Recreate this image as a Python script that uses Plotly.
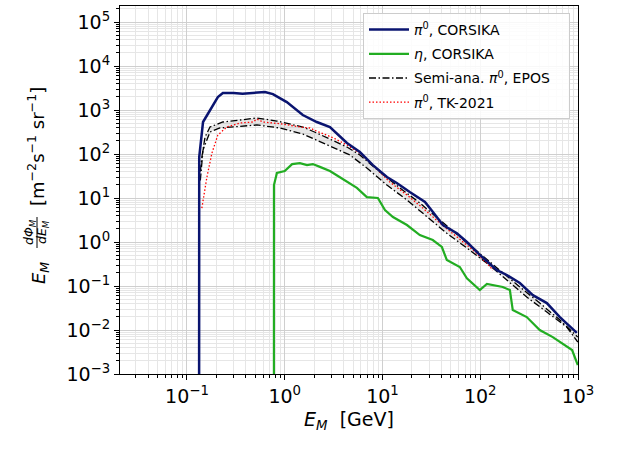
import plotly.graph_objects as go

# ---------------- data ----------------
pi0_E = [0.1330, 0.1335, 0.146, 0.172, 0.207, 0.233, 0.30, 0.37, 0.44, 0.628, 0.757,
         1.05, 1.53, 2.13, 2.9, 4.33, 5.87, 7.98, 11.1, 14.0, 19.0, 27.2, 32.8, 41.5,
         57.7, 73, 99, 148, 187, 254, 345, 480, 652, 973]
pi0_flux = [1e-5, 85, 534, 1000, 1970, 2430, 2450, 2350, 2430, 2570, 2300,
            1510, 770, 534, 409, 178, 111, 56, 30, 22, 13.7, 8.1, 4.8, 2.43,
            1.58, 1.0, 0.51, 0.23, 0.178, 0.117, 0.062, 0.041, 0.0197, 0.0086]

eta_E = [0.775, 0.776, 0.832, 0.893, 1.0, 1.19, 1.43, 1.69, 1.94, 2.29, 2.90, 3.50,
         4.33, 5.47, 6.92, 8.97, 10.6, 12.8, 17.8, 24.1, 32.7, 40.5, 45.5, 61.8, 73,
         99, 117, 170, 201, 215, 299, 406, 552, 767, 870, 995]
eta_flux = [1e-5, 19.7, 37, 39, 41, 59, 62, 56, 59, 51, 41, 31.6,
            23, 17, 10.5, 10, 5.3, 3.7, 2.43, 1.44, 1.11, 0.77, 0.39, 0.27, 0.15,
            0.081, 0.111, 0.095, 0.081, 0.0285, 0.0197, 0.010, 0.0069, 0.0041, 0.0035, 0.0016]

semi_hi_E = [0.137, 0.142, 0.153, 0.172, 0.233, 0.52, 0.832, 1.53, 2.13, 3.11, 4.33,
             5.87, 9.4, 15.1, 24.1, 38.6, 61.8, 99, 158, 254, 406, 652, 995]
semi_hi = [40, 85, 243, 411, 534, 658, 562, 411, 300, 200, 144,
           95, 39, 16.9, 7.7, 3.16, 1.30, 0.56, 0.23, 0.095, 0.041, 0.0169, 0.0069]

semi_lo_E = [0.137, 0.146, 0.172, 0.217, 0.52, 0.893, 1.53, 2.13, 3.11, 4.64, 6.92,
             11.1, 17.8, 28.5, 45.5, 73, 117, 187, 299, 480, 767, 995]
semi_lo = [25, 124, 316, 390, 457, 390, 285, 208, 144, 95, 48,
           19.7, 9.0, 3.7, 1.58, 0.73, 0.33, 0.137, 0.056, 0.0256, 0.0117, 0.0053]

tk_E = [0.142, 0.16, 0.180, 0.207, 0.256, 0.348, 0.473, 0.52, 0.598, 0.96, 1.43, 1.81,
        2.13, 3.11, 4.33, 5.87, 7.98, 11.9, 17.8, 25.9, 38.6, 57.7, 84, 117, 135]
tk_flux = [5.9, 30, 105, 270, 411, 507, 534, 624, 534, 480, 411, 390,
           330, 235, 160, 105, 56, 23, 11.7, 5.9, 2.7, 1.30, 0.66, 0.33, 0.23]

x_tickvals = [0.1, 1, 10, 100, 1000]
x_ticktext = ["10<sup>−1</sup>", "10<sup>0</sup>", "10<sup>1</sup>", "10<sup>2</sup>", "10<sup>3</sup>"]
y_tickvals = [1e-3, 1e-2, 1e-1, 1, 10, 100, 1e3, 1e4, 1e5]
y_ticktext = ["10<sup>−3</sup>", "10<sup>−2</sup>", "10<sup>−1</sup>", "10<sup>0</sup>",
              "10<sup>1</sup>", "10<sup>2</sup>", "10<sup>3</sup>", "10<sup>4</sup>", "10<sup>5</sup>"]

FONT = "DejaVu Sans"
NAVY = "#0a1470"
GREEN = "#22ad22"

fig = go.Figure()

# shaded band between the semi-analytical bounds
fig.add_trace(go.Scatter(
    x=semi_hi_E + semi_lo_E[::-1], y=semi_hi + semi_lo[::-1],
    fill="toself", fillcolor="rgba(150,150,150,0.22)", line=dict(width=0),
    mode="lines", showlegend=False, hoverinfo="skip"))

dd = "7px,2.5px,1.5px,2.5px"
fig.add_trace(go.Scatter(x=semi_hi_E, y=semi_hi, mode="lines",
                         line=dict(color="black", width=1.3, dash=dd),
                         name="Semi-ana. <i>π</i><sup>0</sup>, EPOS&nbsp;&nbsp;&nbsp;",
                         legendrank=3, legendgroup="c"))
fig.add_trace(go.Scatter(x=semi_lo_E, y=semi_lo, mode="lines",
                         line=dict(color="black", width=1.3, dash=dd),
                         showlegend=False, legendgroup="c"))
fig.add_trace(go.Scatter(x=tk_E, y=tk_flux, mode="lines",
                         line=dict(color="red", width=1.3, dash="1.5px,2px"),
                         name="<i>π</i><sup>0</sup>, TK-2021", legendrank=4,
                         legendgroup="d"))
fig.add_trace(go.Scatter(x=eta_E, y=eta_flux, mode="lines",
                         line=dict(color=GREEN, width=2.2),
                         name="<i>η</i>, CORSIKA", legendrank=2, legendgroup="b"))
fig.add_trace(go.Scatter(x=pi0_E, y=pi0_flux, mode="lines",
                         line=dict(color=NAVY, width=2.5),
                         name="<i>π</i><sup>0</sup>, CORSIKA", legendrank=1,
                         legendgroup="a"))

axis_common = dict(
    type="log", showline=True, linecolor="black", linewidth=1, mirror=True,
    ticks="outside", ticklen=5, tickcolor="black", tickwidth=1,
    showgrid=True, gridcolor="#cfcfcf", gridwidth=1, zeroline=False,
    tickfont=dict(family=FONT, size=19, color="black"),
    minor=dict(dtick="D1", ticks="outside", ticklen=3, tickcolor="black",
               showgrid=True, gridcolor="#e6e6e6", gridwidth=1),
)

fig.update_xaxes(**axis_common, range=[-1.685, 3.0], tickmode="array",
                 tickvals=x_tickvals, ticktext=x_ticktext,
                 title=dict(text="<i>E<sub>M</sub></i>  [GeV]",
                            font=dict(family=FONT, size=19, color="black"), standoff=6))
fig.update_yaxes(**axis_common, range=[-3, 5.364], tickmode="array",
                 tickvals=y_tickvals, ticktext=y_ticktext)

# y-axis label built from pieces (E_M dPhi/dE [units])
L, R, T, B = 120, 578, 6, 374
def px(xp):
    return (xp - L) / (R - L)
def py(yp):
    return 1 - (yp - T) / (B - T)

ann = dict(xref="paper", yref="paper", showarrow=False, textangle=-90,
           xanchor="center", yanchor="middle",
           font=dict(family=FONT, size=18, color="black"))
fig.add_annotation(**ann, x=px(36), y=py(147),
                   text="[m<sup>−2</sup>s<sup>−1</sup> sr<sup>−1</sup>]")
fig.add_annotation(**ann, x=px(40), y=py(273), text="<i>E<sub>M</sub></i>")
ann_small = dict(ann)
ann_small["font"] = dict(family=FONT, size=12.5, color="black")
fig.add_annotation(**ann_small, x=px(30), y=py(232), text="<i>d</i><i>Φ<sub>M</sub></i>")
fig.add_annotation(**ann_small, x=px(43), y=py(232), text="<i>dE<sub>M</sub></i>")
fig.add_shape(type="line", xref="paper", yref="paper",
              x0=px(37), x1=px(37), y0=py(217), y1=py(248),
              line=dict(color="black", width=1))

fig.update_layout(
    width=618, height=450,
    margin=dict(l=L, r=618 - R, t=T, b=450 - B),
    paper_bgcolor="white", plot_bgcolor="white",
    font=dict(family=FONT, size=14, color="black"),
    legend=dict(x=px(570), y=py(13), xanchor="right", yanchor="top",
                bgcolor="rgba(255,255,255,0.85)", bordercolor="#cccccc", borderwidth=1,
                font=dict(family=FONT, size=14, color="black"),
                tracegroupgap=3, itemwidth=40),
    showlegend=True,
)

fig.write_html("out.html", config={"displayModeBar": False},
               post_script="document.body.style.margin='0px';")
